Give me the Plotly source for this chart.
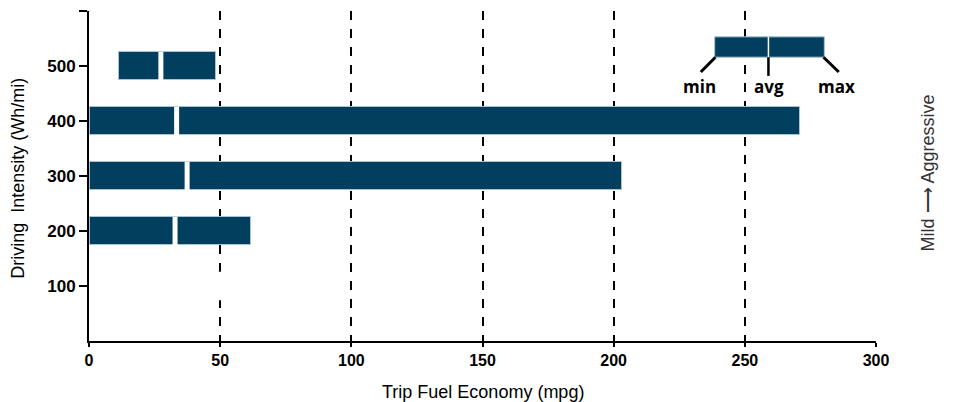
import plotly.graph_objects as go

# Data
intensity = [100, 200, 300, 400, 500]
mpg_min = [49.6, 0.5, 0.5, 0.5, 11.6]
mpg_avg = [49.6, 32.8, 37.4, 33.4, 27.4]
mpg_max = [49.6, 61.6, 203.0, 270.9, 48.6]
x_ticks = [0, 50, 100, 150, 200, 250, 300]
y_ticks = [100, 200, 300, 400, 500, 600]
y_ticktext = ["100", "200", "300", "400", "500", ""]

BAR = "#023f5f"
EDGE = "#a9c3d3"
BAR_W = 50

fig = go.Figure()
fig.add_trace(go.Bar(
    y=intensity, x=[a - m for a, m in zip(mpg_avg, mpg_min)], base=mpg_min,
    orientation="h", width=BAR_W, marker=dict(color=BAR, line=dict(color=EDGE, width=1)),
    showlegend=False, hoverinfo="skip"))
fig.add_trace(go.Bar(
    y=intensity, x=[M - a for M, a in zip(mpg_max, mpg_avg)], base=mpg_avg,
    orientation="h", width=BAR_W, marker=dict(color=BAR, line=dict(color=EDGE, width=1)),
    showlegend=False, hoverinfo="skip"))

# white average separators
sx, sy = [], []
for yv, a in zip(intensity, mpg_avg):
    sx += [a, a, None]
    sy += [yv - BAR_W / 2 - 1, yv + BAR_W / 2 + 1, None]
fig.add_trace(go.Scatter(x=sx, y=sy, mode="lines", line=dict(color="white", width=5),
                         showlegend=False, hoverinfo="skip"))

fig.update_layout(barmode="overlay")

# Key (min / avg / max)
kx0, kxm, kx1 = 238.5, 259.0, 280.3
ky0, ky1 = 516, 553
shapes = [
    dict(type="rect", xref="x", yref="y", x0=kx0, x1=kx1, y0=ky0, y1=ky1,
         fillcolor=BAR, line=dict(color=EDGE, width=1), layer="above"),
    dict(type="line", xref="x", yref="y", x0=kxm, x1=kxm, y0=ky0, y1=ky1,
         line=dict(color="white", width=1.5), layer="above"),
    dict(type="line", xref="x", yref="y", x0=kx0 + 0.3, x1=233.2, y0=ky0, y1=489,
         line=dict(color="black", width=3), layer="above"),
    dict(type="line", xref="x", yref="y", x0=kxm, x1=kxm, y0=ky0, y1=482,
         line=dict(color="black", width=2.5), layer="above"),
    dict(type="line", xref="x", yref="y", x0=kx1 - 0.3, x1=285.8, y0=ky0, y1=489,
         line=dict(color="black", width=3), layer="above"),
]
fig.update_layout(shapes=shapes)

key_font = dict(family="Open Sans", size=17, color="black")
for lbl, xv in [("min", 232.8), ("avg", 259.4), ("max", 285.0)]:
    fig.add_annotation(x=xv, y=462, xref="x", yref="y", text="<b>%s</b>" % lbl,
                       showarrow=False, font=key_font)

fig.add_annotation(x=1.081, y=0.51, xref="paper", yref="paper", text="Mild \u27f6 Aggressive",
                   textangle=-90, showarrow=False,
                   font=dict(family="Liberation Sans", size=18, color="#333333"))
fig.add_annotation(x=-0.0905, y=0.494, xref="paper", yref="paper", text="Driving  Intensity (Wh/mi)",
                   textangle=-90, showarrow=False, xanchor="center",
                   font=dict(family="Liberation Sans", size=18, color="black"))
fig.add_annotation(x=0.5, y=-0.155, xref="paper", yref="paper", text="Trip Fuel Economy (mpg)",
                   showarrow=False, yanchor="middle",
                   font=dict(family="Liberation Sans", size=18, color="black"))

fig.update_xaxes(range=[0, 300], tickvals=x_ticks, showline=True, linecolor="black", linewidth=2,
                 ticks="outside", ticklen=4, tickwidth=1.5, tickcolor="black",
                 showgrid=True, gridcolor="black", gridwidth=1.5, griddash="dash",
                 zeroline=False,
                 tickfont=dict(family="Liberation Sans", size=16, color="black", weight="bold"))
fig.update_yaxes(range=[0, 600], tickvals=y_ticks, ticktext=y_ticktext, showline=True,
                 linecolor="black", linewidth=2, ticks="outside", ticklen=8, tickwidth=2,
                 tickcolor="black", showgrid=False, zeroline=False,
                 tickfont=dict(family="Liberation Sans", size=17, color="black", weight="bold"))

# page body has an 8px default margin, so the figure is sized/offset to compensate
fig.update_layout(width=945, height=394, plot_bgcolor="white", paper_bgcolor="white",
                  margin=dict(l=80.5, r=77, t=3, b=61), bargap=0)

fig.write_html("out.html")
